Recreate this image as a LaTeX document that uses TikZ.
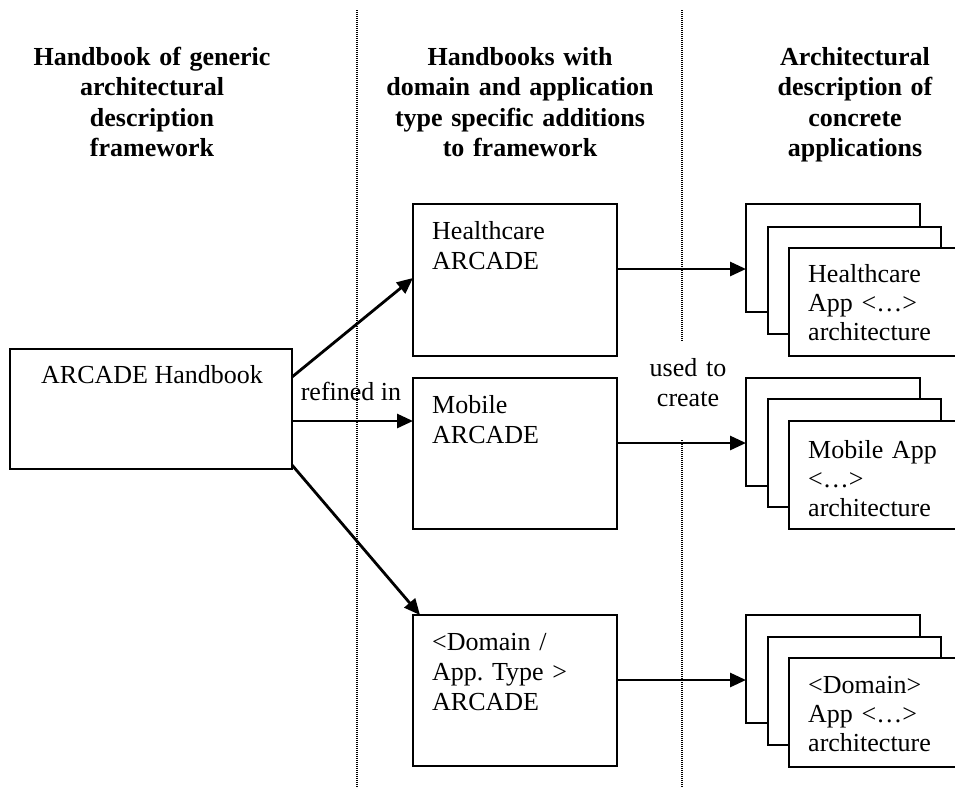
\documentclass[tikz,border=0pt]{standalone}
\usepackage{fontspec}
\setmainfont{Liberation Serif}
\usetikzlibrary{arrows.meta,calc}
\frenchspacing
\begin{document}
\begin{tikzpicture}[x=1pt,y=-1pt,
  box/.style={draw,line width=2pt,fill=white,anchor=north west,inner sep=0pt,outer sep=0pt},
  txt/.style={font=\fontsize{26}{30}\selectfont,inner sep=0pt,anchor=base west,align=left,text width=180pt},
  stxt/.style={font=\fontsize{26}{29}\selectfont,inner sep=0pt,anchor=base west,align=left,text width=160pt},
  hdr/.style={font=\fontsize{26}{30.5}\selectfont\bfseries,inner sep=0pt,anchor=base,align=center,text width=320pt},
  lbl/.style={font=\fontsize{26}{30}\selectfont,inner sep=0pt,anchor=base,align=center,text width=120pt},
  arr/.style={line width=2.8pt,-{Triangle[length=16pt,width=14pt]}},
  sep/.style={line width=1.3pt,dash pattern=on 1pt off 1pt}]
\useasboundingbox (0,0) rectangle (955,788);
\fill[white] (0,0) rectangle (955,788);

% separators
\coordinate (d1t) at (357,10);
\coordinate (d1b) at (357,788);
\coordinate (d2t) at (682,10);
\coordinate (d2m) at (682,342);
\coordinate (d2n) at (682,440);
\coordinate (d2b) at (682,788);
\draw[sep] (d1t) -- (d1b);
\draw[sep] (d2t) -- (d2m);
\draw[sep] (d2n) -- (d2b);

% headers
\node[hdr] (h1) at (152,65) {Handbook of generic\\architectural\\description\\framework};
\node[hdr] (h2) at (520,65) {Handbooks with\\domain and application\\type specific additions\\to framework};
\node[hdr] (h3) at (855,65) {Architectural\\description of\\concrete\\applications};

% main handbook
\node[box,minimum width=282pt,minimum height=120pt] (hb) at (10,349) {};
\node[font=\fontsize{26}{30}\selectfont,inner sep=0pt,anchor=base] (hbt) at (152,383) {ARCADE Handbook};

% domain handbooks
\node[box,minimum width=204pt,minimum height=152pt] (hc) at (413,204) {};
\node[txt] (hct) at (432,239) {Healthcare\\ARCADE};
\node[box,minimum width=204pt,minimum height=151pt] (mo) at (413,378) {};
\node[txt] (mot) at (432,413) {Mobile\\ARCADE};
\node[box,minimum width=204pt,minimum height=151pt] (do) at (413,615) {};
\node[txt] (dot) at (432,650) {<Domain /\\App. Type >\\ARCADE};

% stacks: healthcare
\node[box,minimum width=174pt,minimum height=108pt] (hs1) at (746,204) {};
\node[box,minimum width=173pt,minimum height=107pt] (hs2) at (768,227) {};
\node[box,minimum width=175pt,minimum height=108pt] (hs3) at (789,248) {};
\node[stxt] (hst) at (808,282) {Healthcare\\App <…>\\architecture};
% stacks: mobile
\node[box,minimum width=174pt,minimum height=108pt] (ms1) at (746,378) {};
\node[box,minimum width=173pt,minimum height=108pt] (ms2) at (768,399) {};
\node[box,minimum width=175pt,minimum height=108pt] (ms3) at (789,421) {};
\node[stxt] (mst) at (808,458) {Mobile App\\<…>\\architecture};
% stacks: domain
\node[box,minimum width=174pt,minimum height=108pt] (ds1) at (746,615) {};
\node[box,minimum width=173pt,minimum height=108pt] (ds2) at (768,637) {};
\node[box,minimum width=175pt,minimum height=109pt] (ds3) at (789,658) {};
\node[stxt] (dst) at (808,693) {<Domain>\\App <…>\\architecture};

% labels
\node[font=\fontsize{26}{30}\selectfont,inner sep=0pt,anchor=base] (ref) at (351,400) {refined in};
\node[lbl] (use) at (688,376) {used to\\create};

% refined-in arrows
\draw[arr] ($(hb.north east)+(0,28)$) -- ($(hc.north west)+(0,74)$);
\draw[arr] ($(hb.north east)+(0,72)$) -- ($(mo.north west)+(0,43)$);
\draw[arr] ($(hb.north east)+(0,116)$) -- ($(do.north west)+(7,0)$);

% used-to-create arrows
\draw[arr] ($(hc.north east)+(0,65)$) -- ($(hs1.north west)+(0,65)$);
\draw[arr] ($(mo.north east)+(0,65)$) -- ($(ms1.north west)+(0,65)$);
\draw[arr] ($(do.north east)+(0,65)$) -- ($(ds1.north west)+(0,65)$);
\end{tikzpicture}
\end{document}
